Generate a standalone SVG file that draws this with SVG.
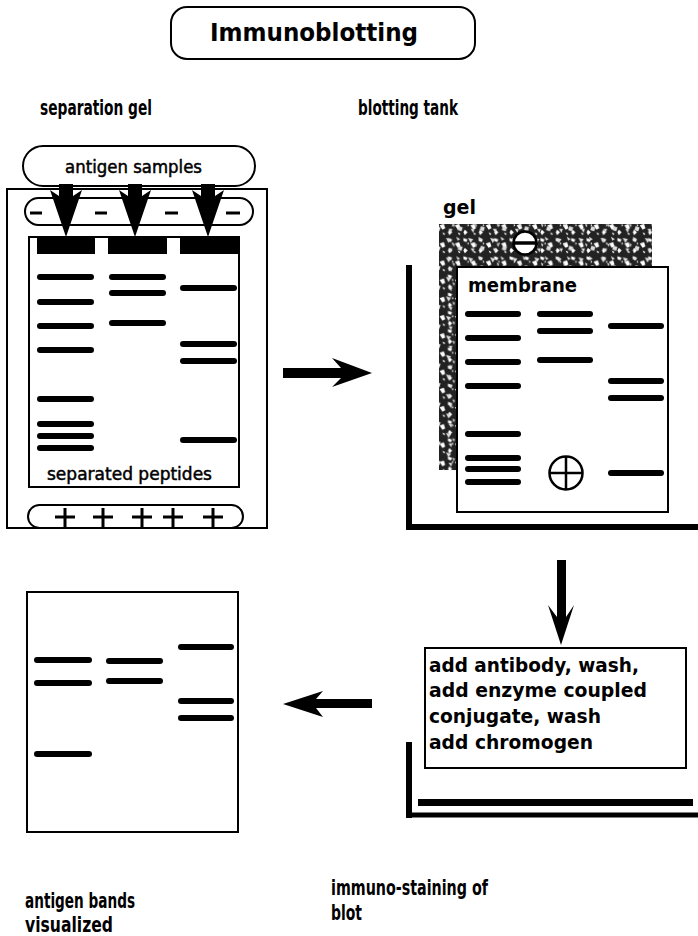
<svg xmlns="http://www.w3.org/2000/svg" width="698" height="936" viewBox="0 0 698 936">
<style>
.bold{font-family:"DejaVu Sans","Liberation Sans",sans-serif;font-weight:bold;fill:#000}
.reg{font-family:"DejaVu Sans","Liberation Sans",sans-serif;fill:#000;stroke:#000;stroke-width:0.5}
.box{fill:#fff;stroke:#000;stroke-width:2}
.band{fill:#000}
.sign{stroke:#000;stroke-width:3;fill:none}
.thick{stroke:#000;stroke-width:6;fill:none}
.arrow{fill:#000}
</style>
<defs>
<pattern id="sp1" width="11" height="13" patternUnits="userSpaceOnUse" patternTransform="scale(1.4)">
<path d="M1 1l3 1-1 2-2-1z M6 5l3-1 1 3-2 1z M2 8l2 2-2 2-1-2z M8 10l2 1-1 1z M4 4l1 1-1 1z" fill="#fff"/>
</pattern>
<pattern id="sp2" width="17" height="15" patternUnits="userSpaceOnUse" patternTransform="scale(1.3)">
<path d="M3 3l4 1-2 3z M11 2l3 2-2 1z M13 9l3 1-1 3-3-1z M5 11l3 0-1 3z M8 7l2 1-1 2z" fill="#ddd"/>
</pattern>
</defs>
<rect width="698" height="936" fill="#fff"/>

<g id="title">
<rect class="box" x="171" y="7" width="304" height="52" rx="16"/>
<text class="bold" x="210" y="41" font-size="25" textLength="208" lengthAdjust="spacingAndGlyphs">Immunoblotting</text>
</g>

<g id="label-separation-gel">
<text class="bold" x="40" y="115" font-size="22" textLength="112" lengthAdjust="spacingAndGlyphs">separation gel</text>
</g>
<g id="label-blotting-tank">
<text class="bold" x="358" y="115" font-size="22" textLength="100" lengthAdjust="spacingAndGlyphs">blotting tank</text>
</g>

<g id="separation-gel">
<rect class="box" x="7" y="189" width="260" height="339"/>
<rect class="box" x="29" y="237" width="210" height="250"/>
<rect x="37" y="237" width="58" height="17" fill="#000"/>
<rect x="108" y="237" width="59" height="17" fill="#000"/>
<rect x="180" y="237" width="58" height="17" fill="#000"/>
<g class="band">
<rect x="37" y="274" width="57" height="6" rx="3"/>
<rect x="37" y="299" width="57" height="6" rx="3"/>
<rect x="37" y="323" width="57" height="6" rx="3"/>
<rect x="37" y="347" width="57" height="6" rx="3"/>
<rect x="37" y="396" width="57" height="6" rx="3"/>
<rect x="37" y="421" width="57" height="6" rx="3"/>
<rect x="37" y="433" width="57" height="6" rx="3"/>
<rect x="37" y="445" width="57" height="6" rx="3"/>
<rect x="109" y="274" width="57" height="6" rx="3"/>
<rect x="109" y="290" width="57" height="6" rx="3"/>
<rect x="109" y="320" width="57" height="6" rx="3"/>
<rect x="180" y="285" width="57" height="6" rx="3"/>
<rect x="180" y="341" width="57" height="6" rx="3"/>
<rect x="180" y="358" width="57" height="6" rx="3"/>
<rect x="180" y="437" width="57" height="6" rx="3"/>
</g>
<text class="reg" x="47" y="480" font-size="17" textLength="165" lengthAdjust="spacingAndGlyphs">separated peptides</text>
<rect class="box" x="25" y="198" width="228" height="27" rx="13.5"/>
<g class="sign">
<line x1="30" y1="213" x2="42" y2="213"/>
<line x1="95" y1="213" x2="107" y2="213"/>
<line x1="165" y1="213" x2="178" y2="213"/>
<line x1="226" y1="213" x2="240" y2="213"/>
</g>
<rect class="box" x="28" y="505" width="215" height="23" rx="11.5"/>
<g class="sign">
<path d="M55 517h20M65 508v19"/>
<path d="M93 517h20M103 508v19"/>
<path d="M132 517h20M142 508v19"/>
<path d="M163 517h20M173 508v19"/>
<path d="M203 517h20M213 508v19"/>
</g>
</g>

<g id="antigen-samples">
<rect class="box" x="23" y="146" width="232" height="40" rx="20"/>
<text class="reg" x="65" y="173" font-size="17" textLength="137" lengthAdjust="spacingAndGlyphs">antigen samples</text>
</g>

<g id="blotting-tank">
<path class="thick" d="M409 265V527H698"/>
<text class="bold" x="443" y="214" font-size="19">gel</text>
<rect x="439" y="224" width="213" height="246" fill="#222"/>
<rect x="439" y="224" width="213" height="246" fill="url(#sp1)"/>
<rect x="439" y="224" width="213" height="246" fill="url(#sp2)"/>
<circle cx="525" cy="243" r="11.5" fill="#fff" stroke="#000" stroke-width="2.5"/>
<line x1="513" y1="243" x2="537" y2="243" stroke="#000" stroke-width="3.5"/>
<rect class="box" x="457" y="267" width="211" height="245"/>
<text class="bold" x="468" y="292" font-size="19" textLength="109" lengthAdjust="spacingAndGlyphs">membrane</text>
<g class="band">
<rect x="465" y="311" width="56" height="6" rx="3"/>
<rect x="465" y="335" width="56" height="6" rx="3"/>
<rect x="465" y="359" width="56" height="6" rx="3"/>
<rect x="465" y="383" width="56" height="6" rx="3"/>
<rect x="465" y="431" width="56" height="6" rx="3"/>
<rect x="465" y="455" width="56" height="6" rx="3"/>
<rect x="465" y="466" width="56" height="6" rx="3"/>
<rect x="465" y="479" width="56" height="6" rx="3"/>
<rect x="537" y="311" width="56" height="6" rx="3"/>
<rect x="537" y="328" width="56" height="6" rx="3"/>
<rect x="537" y="357" width="56" height="6" rx="3"/>
<rect x="608" y="323" width="56" height="6" rx="3"/>
<rect x="608" y="378" width="56" height="6" rx="3"/>
<rect x="608" y="395" width="56" height="6" rx="3"/>
<rect x="608" y="470" width="56" height="6" rx="3"/>
</g>
<circle cx="566" cy="473" r="16.5" fill="#fff" stroke="#000" stroke-width="2.5"/>
<path d="M549.5 473h33M566 456.5v33" stroke="#000" stroke-width="2.5"/>
</g>

<g id="immuno-staining">
<path class="thick" d="M409 742V818"/>
<line x1="406" y1="815" x2="698" y2="815" stroke="#000" stroke-width="5"/>
<rect x="418" y="799" width="275" height="7" fill="#000"/>
<rect class="box" x="425" y="648" width="261" height="120"/>
<text class="bold" x="429" y="672" font-size="19" textLength="210" lengthAdjust="spacingAndGlyphs">add antibody, wash,</text>
<text class="bold" x="429" y="697" font-size="19" textLength="218" lengthAdjust="spacingAndGlyphs">add enzyme coupled</text>
<text class="bold" x="429" y="723" font-size="19" textLength="172" lengthAdjust="spacingAndGlyphs">conjugate, wash</text>
<text class="bold" x="429" y="749" font-size="19" textLength="164" lengthAdjust="spacingAndGlyphs">add chromogen</text>
</g>

<g id="result-blot">
<rect class="box" x="27" y="592" width="211" height="240"/>
<g class="band">
<rect x="34" y="657" width="58" height="6" rx="3"/>
<rect x="34" y="680" width="58" height="6" rx="3"/>
<rect x="34" y="751" width="58" height="6" rx="3"/>
<rect x="106" y="658" width="57" height="6" rx="3"/>
<rect x="106" y="678" width="57" height="6" rx="3"/>
<rect x="178" y="644" width="56" height="6" rx="3"/>
<rect x="178" y="698" width="56" height="6" rx="3"/>
<rect x="178" y="715" width="56" height="6" rx="3"/>
</g>
</g>

<g id="label-antigen-bands">
<text class="bold" x="25" y="908" font-size="22" textLength="110" lengthAdjust="spacingAndGlyphs">antigen bands</text>
<text class="bold" x="25" y="932" font-size="22" textLength="88" lengthAdjust="spacingAndGlyphs">visualized</text>
</g>
<g id="label-immuno-staining">
<text class="bold" x="331" y="895" font-size="22" textLength="157" lengthAdjust="spacingAndGlyphs">immuno-staining of</text>
<text class="bold" x="331" y="920" font-size="22" textLength="31" lengthAdjust="spacingAndGlyphs">blot</text>
</g>

<g id="connectors">
<polygon class="arrow" points="59,184 73,184 73,196 82,190 66,237 50,190 59,196"/>
<polygon class="arrow" points="128,184 142,184 142,196 151,190 135,237 119,190 128,196"/>
<polygon class="arrow" points="201,184 215,184 215,196 224,190 208,237 192,190 201,196"/>
<polygon class="arrow" points="283,368 341,368 332,358 372,373 332,387 341,378 283,378"/>
<polygon class="arrow" points="557,560 566,560 566,617 574,605 561,645 548,605 557,617"/>
<polygon class="arrow" points="372,699 316,699 323,691 283,704 323,717 316,708 372,708"/>
</g>
</svg>
